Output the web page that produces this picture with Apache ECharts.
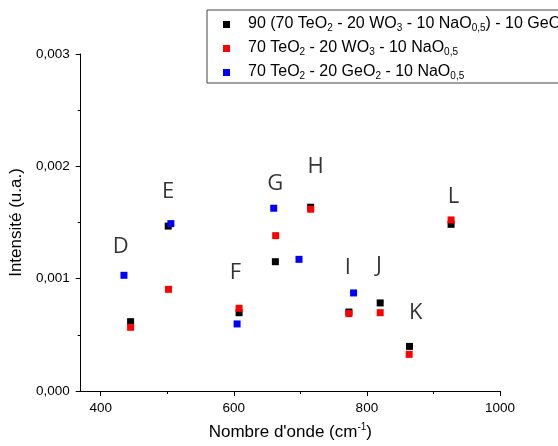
<!DOCTYPE html>
<html>
<head>
<meta charset="utf-8">
<script src="https://cdn.jsdelivr.net/npm/echarts@6/dist/echarts.min.js"></script>
<style>html,body{margin:0;padding:0;background:#fff}#c{width:558px;height:446px}</style>
</head>
<body>
<div id="c"></div>
<script>
// Series 1: 90 (70 TeO2 - 20 WO3 - 10 NaO0,5) - 10 GeO2 (black)
const blackX = [445, 501.5, 608, 662.5, 715.5, 773, 820, 864, 926.5];
const blackY = [0.000617, 0.001468, 0.000697, 0.001151, 0.001636, 0.000703, 0.000784, 0.000397, 0.001484];
// Series 2: 70 TeO2 - 20 WO3 - 10 NaO0,5 (red)
const redX = [445, 502, 608, 663, 715.5, 773, 820, 863.5, 926.5];
const redY = [0.000567, 0.000905, 0.000736, 0.001383, 0.001618, 0.000689, 0.000697, 0.000326, 0.001523];
// Series 3: 70 TeO2 - 20 GeO2 - 10 NaO0,5 (blue)
const blueX = [435, 505.5, 605, 660, 698, 780];
const blueY = [0.001030, 0.001490, 0.000597, 0.001627, 0.001172, 0.000873];
// Peak letters
const labelText = ['D', 'E', 'F', 'G', 'H', 'I', 'J', 'K', 'L'];
const labelX = [430, 501.5, 602.5, 662.5, 723, 771.5, 818, 873.5, 930];
const labelY = [0.001282, 0.001775, 0.001057, 0.001849, 0.001997, 0.001101, 0.001113, 0.000697, 0.001730];
// Axes
const xLabelTicks = [400, 600, 800, 1000];
const xMinorTicks = [500, 700, 900];

const seriesNames = [
  '{n|90 (70 TeO}{s|2}{n| - 20 WO}{s|3}{n| - 10 NaO}{s|0,5}{n|) - 10 GeO}{s|2}',
  '{n|70 TeO}{s|2}{n| - 20 WO}{s|3}{n| - 10 NaO}{s|0,5}',
  '{n|70 TeO}{s|2}{n| - 20 GeO}{s|2}{n| - 10 NaO}{s|0,5}'
];
const zip = (xs, ys) => xs.map((x, i) => [x, ys[i]]);

const chart = echarts.init(document.getElementById('c'));
const font = 'Liberation Sans, Arial, sans-serif';
chart.setOption({
  animation: false,
  backgroundColor: '#fff',
  grid: { left: 80, right: 58, top: 54, bottom: 55 },
  legend: {
    orient: 'vertical',
    left: 207, top: 10,
    data: seriesNames,
    itemWidth: 7, itemHeight: 7,
    itemGap: 3,
    padding: [2, 10, 2, 16],
    borderColor: '#444', borderWidth: 1,
    icon: 'rect',
    textStyle: {
      fontFamily: font, color: '#000', padding: [0, 0, 0, 13],
      rich: {
        n: { fontSize: 16, fontFamily: font, color: '#000', lineHeight: 17, verticalAlign: 'top' },
        s: { fontSize: 10, fontFamily: font, color: '#000', lineHeight: 10, verticalAlign: 'bottom', padding: [11, 0, 0, 0] }
      }
    }
  },
  xAxis: [{
    type: 'value', min: 370, max: 1000,
    splitLine: { show: false },
    axisLine: { show: true, onZero: false, lineStyle: { color: '#000', width: 1 } },
    axisTick: { show: true, inside: false, length: 5, customValues: xLabelTicks, lineStyle: { color: '#000' } },
    axisLabel: { customValues: xLabelTicks, formatter: v => String(v), margin: 10, fontSize: 13.5, fontFamily: font, color: '#000' },
    name: "{n|Nombre d'onde (cm}{p|-1}{n|)}",
    nameLocation: 'middle', nameGap: 31,
    nameTextStyle: {
      rich: {
        n: { fontSize: 17, fontFamily: font, color: '#000', lineHeight: 19, verticalAlign: 'bottom' },
        p: { fontSize: 10, fontFamily: font, color: '#000', lineHeight: 10, verticalAlign: 'top' }
      }
    }
  }, {
    type: 'value', min: 370, max: 1000, position: 'bottom',
    splitLine: { show: false },
    axisLine: { show: false, onZero: false },
    axisTick: { show: true, inside: false, length: 3, customValues: xMinorTicks, lineStyle: { color: '#000' } },
    axisLabel: { show: false }
  }],
  yAxis: {
    type: 'value', min: 0, max: 0.003, interval: 0.001,
    splitLine: { show: false },
    axisLine: { show: true, onZero: false, lineStyle: { color: '#000', width: 1 } },
    axisTick: { show: true, inside: false, length: 5, lineStyle: { color: '#000' } },
    minorTick: { show: true, splitNumber: 2, length: 3, lineStyle: { color: '#000' } },
    axisLabel: {
      margin: 11, fontSize: 13.5, fontFamily: font, color: '#000',
      formatter: v => v.toFixed(3).replace('.', ',')
    },
    name: 'Intensité (u.a.)',
    nameLocation: 'middle', nameGap: 52,
    nameTextStyle: { fontSize: 17, fontFamily: font, color: '#000' }
  },
  series: [
    { name: seriesNames[0], type: 'scatter', symbol: 'rect', symbolSize: 7, itemStyle: { color: '#000', opacity: 1 }, data: zip(blackX, blackY) },
    { name: seriesNames[1], type: 'scatter', symbol: 'rect', symbolSize: 7, itemStyle: { color: '#ff0000', opacity: 1 }, data: zip(redX, redY) },
    { name: seriesNames[2], type: 'scatter', symbol: 'rect', symbolSize: 7, itemStyle: { color: '#0000ff', opacity: 1 }, data: zip(blueX, blueY) },
    {
      name: 'letters', type: 'scatter', symbolSize: 0, silent: true,
      data: labelText.map((t, i) => ({ name: t, value: [labelX[i], labelY[i]] })),
      label: { show: true, position: 'inside', formatter: p => p.name, fontSize: 22, fontFamily: 'Open Sans, sans-serif', color: '#000' }
    }
  ]
});
</script>
</body>
</html>
